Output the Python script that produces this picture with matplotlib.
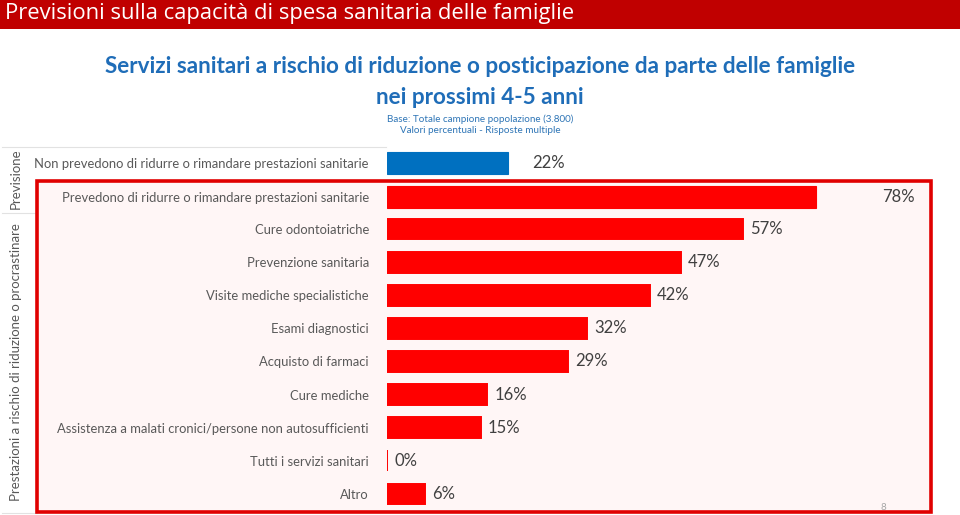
import matplotlib
matplotlib.use("Agg")
import matplotlib.pyplot as plt
import matplotlib.transforms as mtransforms
from matplotlib.patches import Rectangle
from matplotlib.lines import Line2D

W, H = 960, 515

PAGE_TITLE = "Previsioni sulla capacità di spesa sanitaria delle famiglie"
CHART_TITLE = "Servizi sanitari a rischio di riduzione o posticipazione da parte delle famiglie\nnei prossimi 4-5 anni"
CHART_NOTE = "Base: Totale campione popolazione (3.800)\nValori percentuali - Risposte multiple"
GROUP_TOP = "Previsione"
GROUP_BOTTOM = "Prestazioni a rischio di riduzione o procrastinare"

PREV_LABELS = [
    "Non prevedono di ridurre o rimandare prestazioni sanitarie",
    "Prevedono di ridurre o rimandare prestazioni sanitarie",
]
PREV_VALUES = [22, 78]
PREV_COLORS = ["#0070C0", "#FF0000"]

SERV_LABELS = [
    "Cure odontoiatriche",
    "Prevenzione sanitaria",
    "Visite mediche specialistiche",
    "Esami diagnostici",
    "Acquisto di farmaci",
    "Cure mediche",
    "Assistenza a malati cronici/persone non autosufficienti",
    "Tutti i servizi sanitari",
    "Altro",
]
SERV_VALUES = [57, 47, 42, 32, 29, 16, 15, 0, 6]

RED = "#FF0000"
TXT = "#595959"
VAL = "#404040"
FONT = ["Lato", "DejaVu Sans"]

plt.rcParams["font.family"] = FONT


def px_box(x0, y0, x1, y1):
    # pixel box (top-left origin) -> figure fraction [l, b, w, h]
    return [x0 / W, 1 - y1 / H, (x1 - x0) / W, (y1 - y0) / H]


def fx(x):
    return x / W


def fy(y):
    return 1 - y / H


fig = plt.figure(figsize=(W / 100, H / 100), dpi=100)
fig.patch.set_facecolor("white")

# header band
fig.add_artist(Rectangle((0, fy(29)), 1, 29 / H, transform=fig.transFigure,
                         facecolor="#C00000", edgecolor="none", zorder=-2))
fig.text(fx(5), fy(14), PAGE_TITLE, color="white", fontsize=15.8,
         family=["Open Sans", "DejaVu Sans"], va="center", ha="left")

fig.text(fx(480), fy(82), CHART_TITLE, color="#1F6DB8", fontsize=16.2,
         fontweight="bold", ha="center", va="center", linespacing=1.55)
fig.text(fx(480), fy(124.5), CHART_NOTE, color="#2E75B6", fontsize=7.1,
         ha="center", va="center", linespacing=1.3)

# highlighted box around the "prevedono" group
fig.add_artist(Rectangle((fx(37), fy(512)), (931 - 37) / W, (512 - 181) / H,
                         transform=fig.transFigure, facecolor="#FFF6F6",
                         edgecolor="#E00000", linewidth=2.6, zorder=-1))

# faint separators on the left
for y, x1 in [(147, 386), (213, 37), (513, 37)]:
    fig.add_artist(Line2D([fx(2), fx(x1)], [fy(y), fy(y)], transform=fig.transFigure,
                          color="#E2E2E2", linewidth=0.8, zorder=-1.5))

fig.text(fx(16), fy(179), GROUP_TOP, rotation=90, color=TXT, fontsize=9.5,
         ha="center", va="center")
fig.text(fx(16), fy(362), GROUP_BOTTOM, rotation=90, color=TXT, fontsize=9.5,
         ha="center", va="center")

# two bar blocks (they come from two charts with different scales)
ax_top = fig.add_axes(px_box(387, 146, 827, 214))
ax_bot = fig.add_axes(px_box(387, 212.4, 824.5, 510.6))

ax_top.barh(range(len(PREV_VALUES)), PREV_VALUES, height=0.62,
            color=PREV_COLORS, edgecolor=PREV_COLORS, linewidth=0.8)
ax_top.set_xlim(0, 80)
ax_top.set_ylim(len(PREV_VALUES) - 0.5, -0.5)

ax_bot.barh(range(len(SERV_VALUES)), SERV_VALUES, height=0.63,
            color=RED, edgecolor=RED, linewidth=1.4)
ax_bot.set_xlim(0, 70)
ax_bot.set_ylim(len(SERV_VALUES) - 0.5, -0.5)

for ax, labels in [(ax_top, PREV_LABELS), (ax_bot, SERV_LABELS)]:
    ax.set_facecolor("none")
    for s in ax.spines.values():
        s.set_visible(False)
    ax.set_xticks([])
    ax.set_yticks(range(len(labels)))
    ax.set_yticklabels(labels, color=TXT, fontsize=9.4)
    ax.tick_params(axis="y", length=0, pad=13)

# value labels: top block labels follow the lower chart's scale
offset = mtransforms.offset_copy(ax_bot.transData, fig=fig, x=5.2, y=0, units="points")
top_tr = mtransforms.blended_transform_factory(offset, ax_top.transData)
for i, v in enumerate(PREV_VALUES):
    ax_top.text(v, i, f"{v}%", transform=top_tr, color=VAL, fontsize=12,
                va="center", ha="left", clip_on=False)
for i, v in enumerate(SERV_VALUES):
    ax_bot.text(v, i, f"{v}%", transform=offset, color=VAL, fontsize=12,
                va="center", ha="left", clip_on=False)

fig.text(fx(883), fy(508), "8", color="#A6A6A6", fontsize=7, ha="center", va="center")

fig.savefig("out.png", dpi=100)
